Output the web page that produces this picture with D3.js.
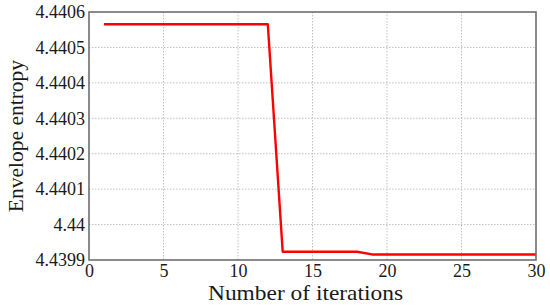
<!DOCTYPE html>
<html><head><meta charset="utf-8">
<script src="https://cdn.jsdelivr.net/npm/d3@7"></script>
<style>body{margin:0;background:#fff}svg{display:block}</style>
</head><body>
<svg id="c" width="550" height="306"></svg>
<script>
const iterations = d3.range(1, 31);
const entropy = [
  4.4405654,4.4405654,4.4405654,4.4405654,4.4405654,4.4405654,
  4.4405654,4.4405654,4.4405654,4.4405654,4.4405654,4.4405654,
  4.4399233,4.4399233,4.4399233,4.4399233,4.4399233,4.4399233,
  4.4399157,4.4399157,4.4399157,4.4399157,4.4399157,4.4399157,
  4.4399157,4.4399157,4.4399157,4.4399157,4.4399157,4.4399157
];
const xTicks = [0,5,10,15,20,25,30];
const yTicks = [4.4399,4.44,4.4401,4.4402,4.4403,4.4404,4.4405,4.4406];
const yTickLabels = ["4.4399","4.44","4.4401","4.4402","4.4403","4.4404","4.4405","4.4406"];

const svg = d3.select("#c");
const L = 89, R = 536, T = 12, B = 260;
const x = d3.scaleLinear().domain([0,30]).range([L,R]);
const y = d3.scaleLinear().domain([4.4399,4.4406]).range([B,T]);
const font = "'Liberation Serif','Times New Roman',serif";

// grid
svg.append("g").selectAll("line.v").data(xTicks.slice(1,-1)).join("line")
  .attr("x1",d=>x(d)).attr("x2",d=>x(d)).attr("y1",T).attr("y2",B)
  .attr("stroke","#b0b0b0").attr("stroke-width",0.8).attr("stroke-dasharray","1.5,1.5");
svg.append("g").selectAll("line.h").data(yTicks.slice(1,-1)).join("line")
  .attr("y1",d=>y(d)).attr("y2",d=>y(d)).attr("x1",L).attr("x2",R)
  .attr("stroke","#b0b0b0").attr("stroke-width",0.8).attr("stroke-dasharray","1.5,1.5");

// line
const line = d3.line().x((d,i)=>x(iterations[i])).y(d=>y(d));
svg.append("path").datum(entropy).attr("d",line)
  .attr("fill","none").attr("stroke","#ff0000").attr("stroke-width",2.4)
  .attr("stroke-linejoin","round");

// frame
svg.append("rect").attr("x",L).attr("y",T).attr("width",R-L).attr("height",B-T)
  .attr("fill","none").attr("stroke","#6e6e6e").attr("stroke-width",1.6);

// axes
const xa = svg.append("g").attr("transform",`translate(0,${B})`)
  .call(d3.axisBottom(x).tickValues(xTicks).tickSize(0).tickPadding(4).tickFormat(d3.format("d")));
const ya = svg.append("g").attr("transform",`translate(${L},0)`)
  .call(d3.axisLeft(y).tickValues(yTicks).tickSize(0).tickPadding(4).tickFormat((d,i)=>yTickLabels[i]));
[xa,ya].forEach(a=>{
  a.select(".domain").remove();
  a.attr("font-family",null).attr("font-size",null);
  a.selectAll("text").style("font-family",font).style("font-size","18px").style("fill","#1a1a1a");
});

svg.append("text").attr("x",305.5).attr("y",299.5).attr("text-anchor","middle")
  .attr("textLength",195).attr("lengthAdjust","spacingAndGlyphs")
  .style("font-family",font).style("font-size","21.5px").style("fill","#1a1a1a").text("Number of iterations");
svg.append("text").attr("transform","translate(23,136) rotate(-90)").attr("text-anchor","middle")
  .style("font-family",font).style("font-size","21.5px").style("fill","#1a1a1a").text("Envelope entropy");
</script>
</body></html>
